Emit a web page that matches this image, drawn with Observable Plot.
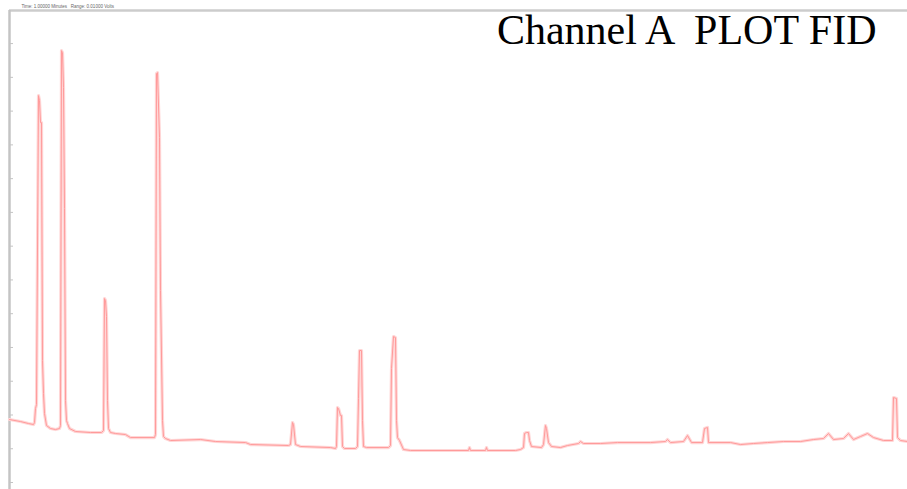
<!DOCTYPE html>
<html>
<head>
<meta charset="utf-8">
<script src="https://cdn.jsdelivr.net/npm/d3@7"></script>
<script src="https://cdn.jsdelivr.net/npm/@observablehq/plot@0.6"></script>
<style>
  html, body { margin: 0; padding: 0; background: #ffffff; }
  #chart svg { display: block; }
</style>
</head>
<body>
<div id="chart"></div>
<script>
// Retention time (s)
const times = [
  0, 22, 38, 48, 50, 52, 54, 58, 60, 62, 64, 66, 68, 70, 74, 82, 92, 100,
  102, 104, 106, 108, 110, 112, 114, 116, 120, 132, 162, 184, 188, 190, 192, 194,
  196, 198, 202, 212, 232, 242, 290, 292, 294, 296, 300, 302, 306, 308, 312, 322,
  382, 412, 472, 482, 558, 562, 566, 568, 572, 582, 642, 652, 654, 656, 658, 662,
  664, 666, 670, 692, 696, 698, 700, 704, 706, 708, 714, 758, 762, 764, 768, 772,
  774, 776, 780, 788, 802, 918, 920, 922, 952, 954, 956, 1012, 1022, 1028, 1030,
  1034, 1038, 1040, 1044, 1064, 1068, 1072, 1074, 1078, 1084, 1102, 1116, 1138,
  1142, 1148, 1182, 1216, 1282, 1312, 1316, 1322, 1348, 1356, 1364, 1386, 1390,
  1396, 1398, 1442, 1462, 1488, 1516, 1548, 1582, 1608, 1628, 1638, 1648, 1668,
  1678, 1688, 1702, 1716, 1728, 1748, 1766, 1768, 1774, 1776, 1782, 1796
];
// Detector signal (arbitrary units)
const signal = [
  18.65, 18.06, 17.47, 17.17, 17.77, 21.91, 23.10, 114.59, 113.11, 106.60, 106.60, 36.12, 26.35, 20.43, 16.88, 15.99, 15.69, 15.99,
  16.88, 127.92, 127.32, 116.96, 81.13, 24.28, 18.36, 17.47, 15.99, 15.10, 14.81, 14.81, 15.40, 54.48, 53.89, 49.15,
  24.28, 15.99, 14.81, 14.51, 14.21, 13.32, 13.32, 14.21, 121.10, 121.40, 102.15, 56.85, 18.36, 13.62, 13.03, 12.44,
  12.73, 12.14, 11.84, 11.25, 10.96, 11.25, 17.77, 17.17, 11.25, 10.66, 10.36, 10.07, 10.66, 22.21, 21.91, 19.84,
  19.84, 10.66, 10.07, 10.07, 10.66, 24.87, 39.09, 39.09, 18.36, 10.66, 10.36, 10.36, 10.96, 33.76, 43.23, 42.93,
  18.36, 13.32, 12.44, 9.77, 9.48, 9.48, 10.36, 9.48, 9.48, 10.36, 9.48, 9.48, 9.77, 10.36, 14.51,
  14.81, 14.81, 12.44, 10.66, 10.36, 11.25, 16.88, 15.99, 11.84, 10.66, 10.36, 10.96, 11.55,
  12.14, 11.55, 11.55, 11.84, 11.84, 12.14, 12.73, 11.84, 12.14, 13.92, 11.84, 11.84, 15.99,
  16.29, 11.84, 11.84, 11.25, 11.55, 11.84, 12.14, 12.14, 12.73, 13.03, 14.51, 12.73, 13.03,
  14.51, 12.73, 13.62, 14.51, 13.32, 12.44, 12.44, 25.17, 24.87, 13.32, 12.44, 12.14
];
const yTicks = [0, 10, 20, 30, 40, 50, 60, 70, 80, 90, 100, 110, 120, 130];
const xDomain = [0, 1796];
const yDomain = [-2.07, 139.8];
const titleText = "Channel A \u00a0PLOT FID";
const headerText = "Time: 1.00000 Minutes   Range: 0.01000 Volts";

const data = times.map((t, i) => ({t, v: signal[i]}));

const chart = Plot.plot({
  width: 907,
  height: 489,
  marginLeft: 9,
  marginRight: 0,
  marginTop: 10,
  marginBottom: 0,
  style: {background: "#ffffff", overflow: "visible"},
  x: {domain: xDomain, axis: null},
  y: {domain: yDomain, axis: null},
  marks: [
    Plot.ruleY([yDomain[1]], {stroke: "#cccccc", strokeWidth: 2.5}),
    Plot.ruleX([xDomain[0]], {stroke: "#c4c4c4", strokeWidth: 2.5}),
    Plot.axisY({ticks: yTicks, tickSize: -4, tickFormat: () => "", label: null, stroke: "#c4c4c4", strokeWidth: 1}),
    Plot.line(data, {x: "t", y: "v", stroke: "#ffd6d6", strokeWidth: 3.2, curve: "linear"}),
    Plot.line(data, {x: "t", y: "v", stroke: "#ff9a9a", strokeWidth: 1, curve: "linear"}),
    Plot.text([titleText], {frameAnchor: "top-right", dx: -31, dy: 4, lineAnchor: "top", textAnchor: "end",
      fontSize: 42, fontFamily: "Liberation Serif", fill: "#000000"}),
    Plot.text([headerText], {frameAnchor: "top-left", dx: 12, dy: -6, textAnchor: "start",
      fontSize: 4.5, fontFamily: "Liberation Sans", fill: "#666666"})
  ]
});
document.getElementById("chart").appendChild(chart);
</script>
</body>
</html>
